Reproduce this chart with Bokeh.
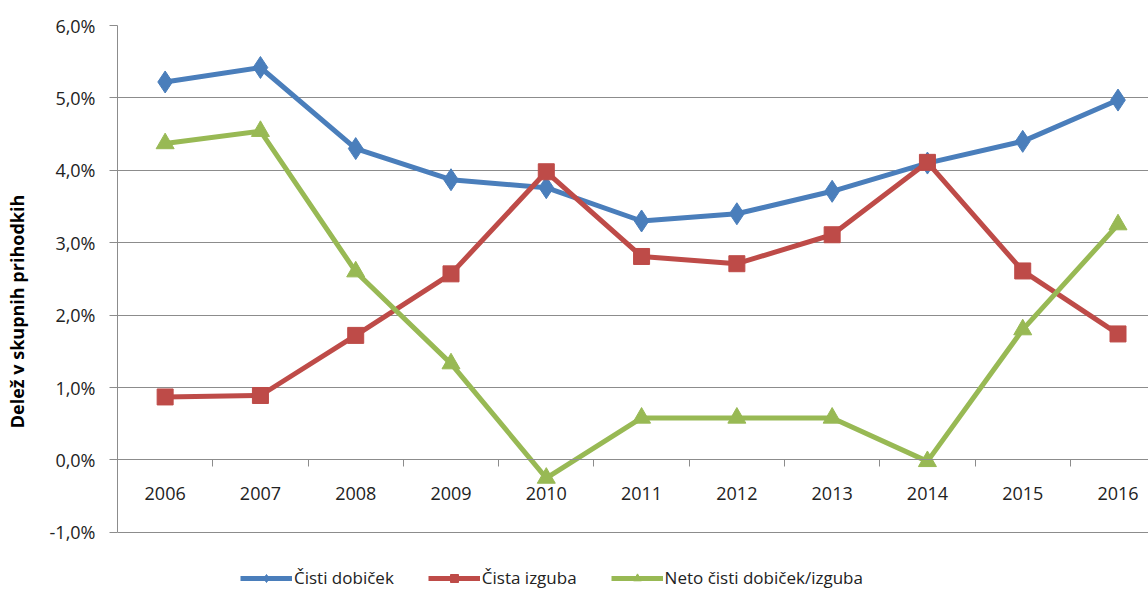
from bokeh.plotting import figure
from bokeh.models import (Range1d, FixedTicker, LinearAxis, Legend, LegendItem)
from bokeh.embed import file_html
from bokeh.resources import INLINE

years = ["2006", "2007", "2008", "2009", "2010", "2011", "2012", "2013", "2014", "2015", "2016"]
cisti_dobicek = [5.22, 5.42, 4.30, 3.87, 3.76, 3.30, 3.40, 3.71, 4.10, 4.40, 4.97]
cista_izguba = [0.87, 0.89, 1.72, 2.57, 3.98, 2.81, 2.71, 3.11, 4.11, 2.61, 1.74]
neto = [4.37, 4.54, 2.60, 1.33, -0.25, 0.58, 0.58, 0.58, -0.02, 1.80, 3.25]
y_ticks = [-1, 0, 1, 2, 3, 4, 5, 6]
y_labels = ["-1,0%", "0,0%", "1,0%", "2,0%", "3,0%", "4,0%", "5,0%", "6,0%"]

FONT = "Open Sans"
GRID = "#8c8c8c"
xs = list(range(len(years)))

# the frame reaches below -1,0 % so that the legend can sit inside it, at the bottom
p = figure(frame_width=1031, frame_height=572, output_backend="svg", toolbar_location=None,
           x_range=Range1d(-0.5, 10.32), y_range=Range1d(-1.9, 6),
           x_axis_type=None, min_border_left=117, min_border_right=0,
           min_border_top=25, min_border_bottom=10)
p.outline_line_color = None
p.background_fill_color = "white"

# y axis
ya = p.yaxis[0]
ya.bounds = (-1, 6)
ya.ticker = FixedTicker(ticks=y_ticks)
ya.major_label_overrides = {t: l for t, l in zip(y_ticks, y_labels)}
ya.major_label_text_font = FONT
ya.major_label_text_font_size = "18px"
ya.major_label_text_color = "#222222"
ya.major_tick_out = 8
ya.major_tick_in = 0
ya.minor_tick_line_color = None
ya.axis_line_color = GRID
ya.major_tick_line_color = GRID
ya.major_label_standoff = 14
ya.axis_label = "Delež v skupnih prihodkih"
ya.axis_label_text_font = FONT
ya.axis_label_text_font_style = "bold"
ya.axis_label_text_font_size = "18px"
ya.axis_label_text_color = "#000000"
ya.axis_label_standoff = 18

p.ygrid.ticker = FixedTicker(ticks=y_ticks)
p.ygrid.grid_line_color = GRID
p.ygrid.grid_line_width = 1
p.xgrid.grid_line_color = None

# x axis on the zero line: year labels, boundary ticks
xa = LinearAxis(fixed_location=0,
                ticker=FixedTicker(ticks=xs, minor_ticks=[i + 0.5 for i in range(10)]))
xa.major_label_overrides = {i: y for i, y in zip(xs, years)}
xa.major_label_text_font = FONT
xa.major_label_text_font_size = "18px"
xa.major_label_text_color = "#222222"
xa.major_tick_line_color = None
xa.minor_tick_out = 7
xa.minor_tick_in = 0
xa.minor_tick_line_color = GRID
xa.axis_line_color = GRID
xa.major_label_standoff = 20
p.add_layout(xa, "below")

BLUE, RED, GREEN = "#4a7ebb", "#be4b48", "#98b954"

l1 = p.line(xs, cisti_dobicek, line_color=BLUE, line_width=5)
m1 = p.scatter(xs, cisti_dobicek, marker="diamond", size=22, fill_color=BLUE, line_color=BLUE)
l2 = p.line(xs, cista_izguba, line_color=RED, line_width=5)
m2 = p.scatter(xs, cista_izguba, marker="square", size=16, fill_color=RED, line_color=RED)
l3 = p.line(xs, neto, line_color=GREEN, line_width=5)
m3 = p.scatter(xs, neto, marker="triangle", size=18, fill_color=GREEN, line_color=GREEN)

legend = Legend(items=[
    LegendItem(label="Čisti dobiček", renderers=[l1, m1]),
    LegendItem(label="Čista izguba", renderers=[l2, m2]),
    LegendItem(label="Neto čisti dobiček/izguba", renderers=[l3, m3]),
], orientation="horizontal", location=(123, 8))
legend.label_text_font = FONT
legend.label_text_font_size = "17px"
legend.label_text_color = "#222222"
legend.glyph_width = 52
legend.spacing = 34
legend.label_standoff = 2
legend.border_line_color = None
legend.background_fill_alpha = 0
legend.padding = 0
legend.margin = 0
p.add_layout(legend, "center")

open("out.html", "w").write(file_html(p, INLINE))
